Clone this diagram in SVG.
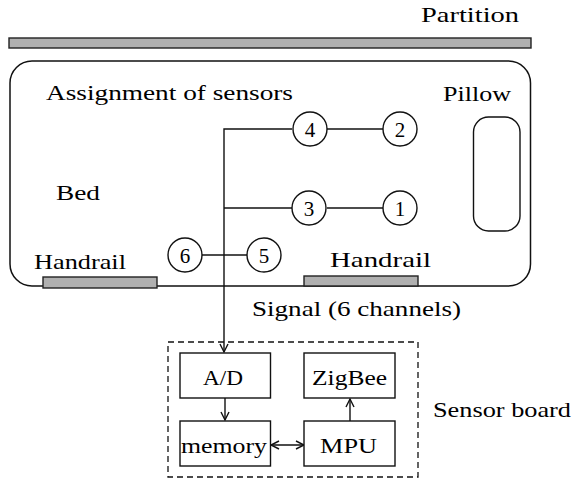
<svg xmlns="http://www.w3.org/2000/svg" width="579" height="479" viewBox="0 0 579 479">
<defs>
<marker id="ah" markerUnits="userSpaceOnUse" markerWidth="12" markerHeight="12" refX="9" refY="5" orient="auto-start-reverse" viewBox="0 0 12 10">
<path d="M1,1 L9,5 L1,9" fill="none" stroke="#111" stroke-width="1.4"/>
</marker>
</defs>
<rect width="579" height="479" fill="#fff"/>
<g id="partition">
<rect x="9" y="38" width="522" height="10" fill="#b0b0b0" stroke="#222" stroke-width="1.4"/>
<text style="font-family:'Liberation Serif',serif;font-size:21px" x="421" y="22" textLength="98" lengthAdjust="spacingAndGlyphs">Partition</text>
</g>
<g id="bed">
<rect x="10" y="61" width="520.5" height="225" rx="22" fill="none" stroke="#111" stroke-width="1.5"/>
<text style="font-family:'Liberation Serif',serif;font-size:21px" x="46" y="100" textLength="247" lengthAdjust="spacingAndGlyphs">Assignment of sensors</text>
<text style="font-family:'Liberation Serif',serif;font-size:21px" x="56" y="200" textLength="44" lengthAdjust="spacingAndGlyphs">Bed</text>
</g>
<g id="pillow">
<rect x="473.5" y="117" width="46.5" height="114" rx="15" fill="none" stroke="#111" stroke-width="1.4"/>
<text style="font-family:'Liberation Serif',serif;font-size:21px" x="443" y="101" textLength="68" lengthAdjust="spacingAndGlyphs">Pillow</text>
</g>
<g id="handrail-left">
<rect x="43" y="277" width="114" height="11" fill="#b0b0b0" stroke="#222" stroke-width="1.4"/>
<text style="font-family:'Liberation Serif',serif;font-size:21px" x="34" y="269" textLength="92" lengthAdjust="spacingAndGlyphs">Handrail</text>
</g>
<g id="handrail-right">
<rect x="304" y="276" width="114" height="10" fill="#b0b0b0" stroke="#222" stroke-width="1.4"/>
<text style="font-family:'Liberation Serif',serif;font-size:21px" x="330" y="267" textLength="101" lengthAdjust="spacingAndGlyphs">Handrail</text>
</g>
<g id="connectors" fill="none" stroke="#111" stroke-width="1.4">
<path d="M292,129 H224 V352" marker-end="url(#ah)"/>
<path d="M327,129 H383"/>
<path d="M224,208 H292"/>
<path d="M327,208 H383"/>
<path d="M202,255 H247"/>
<path d="M225,398 V420" marker-end="url(#ah)"/>
<path d="M350,421 V399" marker-end="url(#ah)"/>
<path d="M271,445 H304" marker-start="url(#ah)" marker-end="url(#ah)"/>
</g>
<g id="s4"><circle cx="310" cy="129" r="17" fill="#fff" stroke="#111" stroke-width="1.4"/><text style="font-family:'Liberation Serif',serif;font-size:21px" text-anchor="middle" x="310" y="136.5">4</text></g>
<g id="s2"><circle cx="400" cy="129" r="17" fill="#fff" stroke="#111" stroke-width="1.4"/><text style="font-family:'Liberation Serif',serif;font-size:21px" text-anchor="middle" x="400" y="136.5">2</text></g>
<g id="s3"><circle cx="309" cy="208" r="17" fill="#fff" stroke="#111" stroke-width="1.4"/><text style="font-family:'Liberation Serif',serif;font-size:21px" text-anchor="middle" x="309" y="215.5">3</text></g>
<g id="s1"><circle cx="400" cy="208" r="17" fill="#fff" stroke="#111" stroke-width="1.4"/><text style="font-family:'Liberation Serif',serif;font-size:21px" text-anchor="middle" x="400" y="215.5">1</text></g>
<g id="s6"><circle cx="185" cy="255" r="17" fill="#fff" stroke="#111" stroke-width="1.4"/><text style="font-family:'Liberation Serif',serif;font-size:21px" text-anchor="middle" x="185" y="262.5">6</text></g>
<g id="s5"><circle cx="264" cy="255" r="17" fill="#fff" stroke="#111" stroke-width="1.4"/><text style="font-family:'Liberation Serif',serif;font-size:21px" text-anchor="middle" x="264" y="262.5">5</text></g>
<g id="signal-label">
<text style="font-family:'Liberation Serif',serif;font-size:21px" x="252" y="316" textLength="209" lengthAdjust="spacingAndGlyphs">Signal (6 channels)</text>
</g>
<g id="sensor-board">
<rect x="168" y="342" width="250" height="135" fill="none" stroke="#111" stroke-width="1.3" stroke-dasharray="6,4"/>
<text style="font-family:'Liberation Serif',serif;font-size:21px" x="433" y="417" textLength="138" lengthAdjust="spacingAndGlyphs">Sensor board</text>
</g>
<g id="ad"><rect x="180" y="353" width="90.5" height="45" fill="#fff" stroke="#111" stroke-width="1.4"/><text style="font-family:'Liberation Serif',serif;font-size:21px" x="203" y="385" textLength="40" lengthAdjust="spacingAndGlyphs">A/D</text></g>
<g id="zigbee"><rect x="304" y="353" width="91" height="45" fill="#fff" stroke="#111" stroke-width="1.4"/><text style="font-family:'Liberation Serif',serif;font-size:21px" x="312" y="385" textLength="75" lengthAdjust="spacingAndGlyphs">ZigBee</text></g>
<g id="memory"><rect x="180" y="421" width="90.5" height="45" fill="#fff" stroke="#111" stroke-width="1.4"/><text style="font-family:'Liberation Serif',serif;font-size:21px" x="181" y="453" textLength="86" lengthAdjust="spacingAndGlyphs">memory</text></g>
<g id="mpu"><rect x="304" y="421" width="91" height="45" fill="#fff" stroke="#111" stroke-width="1.4"/><text style="font-family:'Liberation Serif',serif;font-size:21px" x="320" y="453" textLength="57" lengthAdjust="spacingAndGlyphs">MPU</text></g>
</svg>
